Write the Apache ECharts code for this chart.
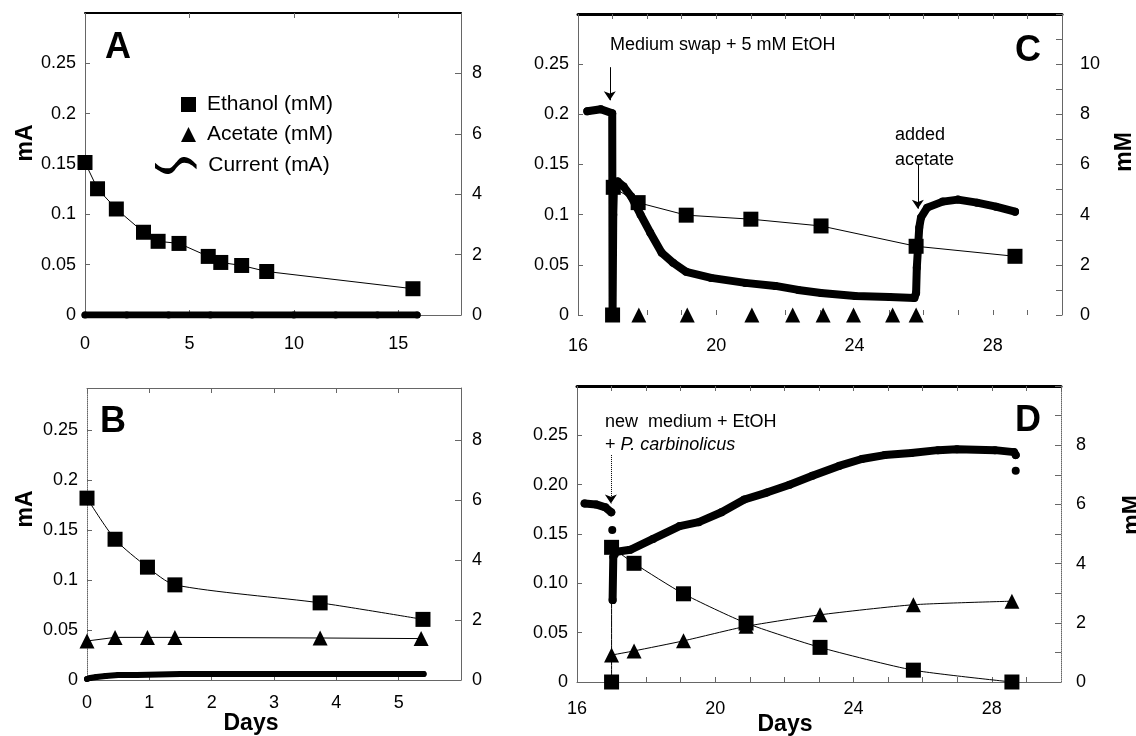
<!DOCTYPE html>
<html>
<head>
<meta charset="utf-8">
<script src="https://cdn.jsdelivr.net/npm/echarts@6/dist/echarts.min.js"></script>
<style>
html, body { margin: 0; padding: 0; background: #fff; }
#chart { width: 1136px; height: 736px; }
</style>
</head>
<body>
<div id="chart"></div>
<script>
// panel A
const aEthanolDays = [0, 0.6, 1.5, 2.8, 3.5, 4.5, 5.9, 6.5, 7.5, 8.7, 15.7]
const aEthanolMM = [5.05, 4.18, 3.51, 2.74, 2.44, 2.37, 1.94, 1.74, 1.64, 1.44, 0.87]
const aCurrentDays = [0, 2, 4, 6, 8, 10, 12, 14, 15.9]
const aCurrentMA = [0, 0, 0, 0, 0, 0, 0, 0, 0]

// panel B
const bEthanolDays = [0, 0.45, 0.97, 1.41, 3.74, 5.39]
const bEthanolMM = [6.06, 4.69, 3.76, 3.17, 2.57, 2.02]
const bAcetateDays = [0, 0.45, 0.97, 1.41, 3.74, 5.36]
const bAcetateMM = [1.3, 1.42, 1.42, 1.42, 1.4, 1.38]
const bCurrentDays = [0, 0.05, 0.15, 0.3, 0.5, 0.8, 1.5, 2.5, 3.5, 4.5, 5.4]
const bCurrentMA = [0.001, 0.002, 0.003, 0.004, 0.005, 0.005, 0.006, 0.006, 0.006, 0.006, 0.006]

// panel C
const cEthanolDays = [17.0, 17.02, 17.74, 19.13, 21.0, 23.03, 25.78, 28.64]
const cEthanolMM = [0, 5.09, 4.48, 3.98, 3.82, 3.55, 2.74, 2.34]
const cAcetateDays = [17.76, 19.16, 21.03, 22.21, 23.09, 23.97, 25.1, 25.78]
const cAcetateMM = [0, 0, 0, 0, 0, 0, 0, 0]
const cCurrentDays = [16.27, 16.66, 16.99, 17.0, 17.02, 17.04, 17.15, 17.32, 17.54, 17.81, 18.09, 18.42,
    18.75, 19.13, 19.85, 20.84, 21.71, 22.37, 23.03, 24.02, 25.01, 25.73, 25.78, 25.8, 25.87, 25.92,
    26.1, 26.55, 26.99, 27.54, 28.09, 28.64]
const cCurrentMA = [0.203, 0.205, 0.201, 0, 0.1, 0.128, 0.133, 0.128, 0.118, 0.10, 0.082, 0.062,
    0.052, 0.043, 0.037, 0.032, 0.029, 0.025, 0.022, 0.019, 0.018, 0.017, 0.022, 0.047, 0.087, 0.097,
    0.107, 0.113, 0.115, 0.112, 0.108, 0.103]

// panel D
const dEthanolDays = [17.0, 17.0, 17.65, 19.08, 20.89, 23.03, 25.73, 28.58]
const dEthanolMM = [0, 4.55, 4.01, 2.98, 1.99, 1.17, 0.40, 0]
const dAcetateDays = [17.0, 17.65, 19.08, 20.89, 23.03, 25.73, 28.58]
const dAcetateMM = [0.91, 1.05, 1.39, 1.88, 2.27, 2.61, 2.73]
const dCurrentDays = [16.22, 16.55, 16.82, 16.99, 17.0, 17.02, 17.025, 17.03, 17.05, 17.15, 17.54,
    18.2, 18.97, 19.52, 20.18, 20.84, 21.49, 22.15, 22.81, 23.58, 24.24, 24.9, 25.67, 26.44, 26.99,
    28.09, 28.64, 28.69, 28.7, 28.69]
const dCurrentMA = [0.181, 0.180, 0.177, 0.172, '-', 0.154, '-', 0.083, 0.127, 0.132, 0.134,
    0.145, 0.158, 0.162, 0.172, 0.185, 0.192, 0.200, 0.209, 0.219, 0.226, 0.230, 0.232, 0.235, 0.236,
    0.235, 0.233, 0.230, '-', 0.214]

// annotation arrows [day, from mA, to mA]
const cSwapArrow = [16.92, 0.247, 0.214]
const cAcetateArrow = [25.83, 0.150, 0.106]
const dMediumArrow = [16.98, 0.230, 0.181]

const FONT = 'Liberation Sans, Arial, Helvetica, sans-serif'
const GREY = '#666'

const zip = function(xs, ys) {
    return xs.map((x, i) => [x, ys[i]])
}

const grids = [
    { left: 85, top: 13, width: 376, height: 302 },
    { left: 87, top: 388, width: 374, height: 292 },
    { left: 578, top: 14, width: 484, height: 301 },
    { left: 577, top: 386, width: 484, height: 296 },
]

const labelStyle = { color: '#000', fontFamily: FONT, fontSize: 18 }

const bottomAxis = function(g, min, max, interval, opts) {
    const o = opts || {}
    return {
        type: 'value', gridIndex: g, position: 'bottom', min: min, max: max, interval: interval,
        splitLine: { show: false },
        axisLine: { show: o.line !== false, onZero: false, lineStyle: { color: GREY, width: 1 } },
        axisTick: { show: true, inside: true, length: 5, lineStyle: { color: GREY } },
        axisLabel: Object.assign({ margin: o.margin || 18, showMaxLabel: false, formatter: o.formatter }, labelStyle),
    }
}

const topAxis = function(g, min, max, interval, color, width) {
    return {
        type: 'value', gridIndex: g, position: 'top', min: min, max: max, interval: interval,
        splitLine: { show: false },
        axisLine: { show: true, onZero: false, lineStyle: { color: color, width: width } },
        axisTick: { show: true, inside: true, length: 5, lineStyle: { color: GREY } },
        axisLabel: { show: false },
    }
}

const leftAxis = function(g, max, formatter, lineType) {
    return {
        type: 'value', gridIndex: g, position: 'left', min: 0, max: max, interval: 0.05,
        splitLine: { show: false },
        axisLine: { show: true, onZero: false, lineStyle: { color: GREY, width: 1, type: lineType || 'solid' } },
        axisTick: { show: true, inside: true, length: 5, lineStyle: { color: GREY } },
        axisLabel: Object.assign({ margin: 9, showMaxLabel: false, formatter: formatter }, labelStyle),
    }
}

const rightAxis = function(g, max, margin, minor, lineType) {
    return {
        type: 'value', gridIndex: g, position: 'right', min: 0, max: max, interval: 2,
        splitLine: { show: false },
        axisLine: { show: true, onZero: false, lineStyle: { color: GREY, width: 1, type: lineType || 'solid' } },
        axisTick: { show: true, inside: true, length: 6, lineStyle: { color: GREY } },
        minorTick: { show: minor, splitNumber: 2, length: 6, lineStyle: { color: GREY } },
        axisLabel: Object.assign({ margin: margin, showMaxLabel: false }, labelStyle),
    }
}

const fmtShort = v => String(+v.toFixed(2))
const fmtFixed = v => (v === 0 ? '0' : v.toFixed(2))
const fmtEvery4 = v => (Math.round(v) % 4 === 0 ? String(Math.round(v)) : '')

const currentSeries = function(xi, yi, xs, ys, width) {
    return {
        name: 'Current (mA)', type: 'line', xAxisIndex: xi, yAxisIndex: yi,
        data: zip(xs, ys), connectNulls: false,
        symbol: 'circle', symbolSize: width, showSymbol: true,
        lineStyle: { color: '#000', width: width, cap: 'round', join: 'round' },
        itemStyle: { color: '#000' }, z: 2,
    }
}

const ethanolSeries = function(xi, yi, xs, ys, smooth) {
    return {
        name: 'Ethanol (mM)', type: 'line', xAxisIndex: xi, yAxisIndex: yi,
        data: zip(xs, ys), smooth: smooth || false,
        symbol: 'rect', symbolSize: 15,
        lineStyle: { color: '#000', width: 1 }, itemStyle: { color: '#000' }, z: 3,
    }
}

const acetateSeries = function(xi, yi, xs, ys, smooth, noLine) {
    return {
        name: 'Acetate (mM)', type: 'line', xAxisIndex: xi, yAxisIndex: yi,
        data: zip(xs, ys), smooth: smooth || false,
        symbol: 'triangle', symbolSize: 15,
        lineStyle: { color: '#000', width: noLine ? 0 : 1 }, itemStyle: { color: '#000' }, z: 4,
    }
}

// vertical arrows drawn in data coordinates
const arrows = function(list, dotted) {
    return {
        silent: true, symbol: ['none', 'arrow'], symbolSize: 9,
        label: { show: false },
        itemStyle: { color: '#000' },
        lineStyle: { color: '#000', width: 1, type: dotted ? 'dotted' : 'solid' },
        data: list.map(a => [{ coord: [a[0], a[1]] }, { coord: [a[0], a[2]] }]),
    }
}

const text = function(x, y, s, size, opts) {
    const o = opts || {}
    return {
        type: 'text', x: x, y: y, rotation: o.rotate ? Math.PI / 2 : 0,
        style: {
            text: s, fill: '#000', fontFamily: FONT, fontSize: size,
            fontWeight: o.bold ? 'bold' : 'normal',
            align: o.align || 'center', verticalAlign: 'middle', rich: o.rich,
        },
    }
}

const WAVE = 'path://M0,6 C6,12 10,12 14,12 C18,12 20,8 23,5 C26,1 28,0 31,0 C36,0 40,4 44,8 L44,13 C40,9 36,6 31,6 C28,6 26,8 23,11 C20,15 18,18 13,18 C8,18 4,14 0,12 Z'

const buildOption = function() {
    const cCur = currentSeries(4, 4, cCurrentDays, cCurrentMA, 8)
    cCur.markLine = arrows([cSwapArrow, cAcetateArrow], false)
    const dCur = currentSeries(6, 6, dCurrentDays, dCurrentMA, 8)
    dCur.markLine = arrows([dMediumArrow], true)

    return {
        animation: false,
        backgroundColor: '#fff',
        textStyle: { fontFamily: FONT },
        grid: grids,
        legend: [
            {
                left: 176, top: 89, orient: 'vertical', itemWidth: 15, itemHeight: 15, itemGap: 9,
                selectedMode: false,
                textStyle: { color: '#000', fontFamily: FONT, fontSize: 21, padding: [0, 0, 0, 6] },
                data: [{ name: 'Ethanol (mM)', icon: 'rect' }, { name: 'Acetate (mM)', icon: 'triangle' }],
            },
            {
                left: 150, top: 150, itemWidth: 43, itemHeight: 17, selectedMode: false,
                textStyle: { color: '#000', fontFamily: FONT, fontSize: 21, padding: [0, 0, 0, 6] },
                data: [{ name: 'Current (mA)', icon: WAVE }],
            },
        ],
        xAxis: [
            bottomAxis(0, 0, 18, 5, { margin: 20 }),
            topAxis(0, 0, 18, 5, '#000', 2),
            bottomAxis(1, 0, 6, 1, { margin: 14 }),
            topAxis(1, 0, 6, 1, GREY, 1),
            bottomAxis(2, 16, 30, 1, { margin: 22, line: false, formatter: fmtEvery4 }),
            topAxis(2, 16, 30, 1, '#000', 3),
            bottomAxis(3, 16, 30, 1, { margin: 18, formatter: fmtEvery4 }),
            topAxis(3, 16, 30, 1, '#000', 3),
        ],
        yAxis: [
            leftAxis(0, 0.3, fmtShort),
            rightAxis(0, 10, 11, false),
            leftAxis(1, 0.292, fmtShort, 'dotted'),
            rightAxis(1, 9.73, 11, false),
            leftAxis(2, 0.3, fmtShort),
            rightAxis(2, 12, 18, true),
            leftAxis(3, 0.3, fmtFixed),
            rightAxis(3, 10, 15, true, 'dotted'),
        ],
        series: [
            currentSeries(0, 0, aCurrentDays, aCurrentMA, 7),
            ethanolSeries(0, 1, aEthanolDays, aEthanolMM),
            currentSeries(2, 2, bCurrentDays, bCurrentMA, 6),
            ethanolSeries(2, 3, bEthanolDays, bEthanolMM, 0.25),
            acetateSeries(2, 3, bAcetateDays, bAcetateMM),
            cCur,
            ethanolSeries(4, 5, cEthanolDays, cEthanolMM),
            acetateSeries(4, 5, cAcetateDays, cAcetateMM, false, true),
            dCur,
            ethanolSeries(6, 7, dEthanolDays, dEthanolMM, 0.2),
            acetateSeries(6, 7, dAcetateDays, dAcetateMM, 0.2),
        ],
        graphic: [
            text(118, 48, 'A', 36, { bold: true }),
            text(113, 422, 'B', 36, { bold: true }),
            text(1028, 51, 'C', 36, { bold: true }),
            text(1028, 421, 'D', 36, { bold: true }),
            text(26, 143, 'mA', 23, { bold: true, rotate: true }),
            text(26, 509, 'mA', 23, { bold: true, rotate: true }),
            text(1125, 152, 'mM', 23, { bold: true, rotate: true }),
            text(1133, 515, 'mM', 23, { bold: true, rotate: true }),
            text(251, 724, 'Days', 23, { bold: true }),
            text(785, 725, 'Days', 23, { bold: true }),
            text(610, 45, 'Medium swap + 5 mM EtOH', 18, { align: 'left' }),
            text(895, 135, 'added', 18, { align: 'left' }),
            text(895, 160, 'acetate', 18, { align: 'left' }),
            text(605, 422, 'new  medium + EtOH', 18, { align: 'left' }),
            text(605, 445, '+ {i|P. carbinolicus}', 18, {
                align: 'left',
                rich: { i: { fontStyle: 'italic', fontFamily: FONT, fontSize: 18, fill: '#000' } },
            }),
        ],
    }
}

const __main = function() {
    const chart = echarts.init(document.getElementById('chart'))
    chart.setOption(buildOption())
}

__main()
</script>
</body>
</html>
